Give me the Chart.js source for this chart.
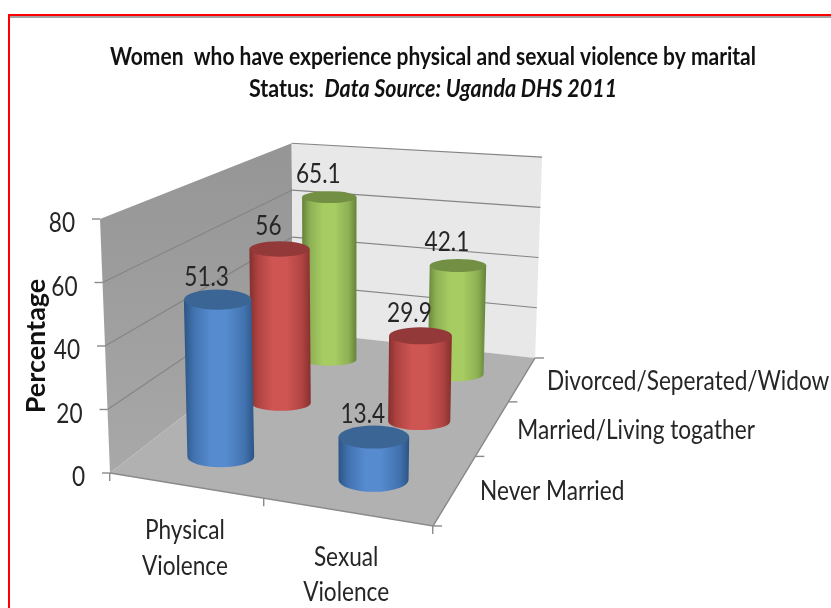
<!DOCTYPE html>
<html>
<head>
<meta charset="utf-8">
<style>html,body{margin:0;padding:0;background:#fff}canvas{display:block}</style>
<script src="https://cdn.jsdelivr.net/npm/chart.js@4"></script>
</head>
<body>
<canvas id="c" width="831" height="608"></canvas>
<script>
// ---- data ----
const categories = [['Physical', 'Violence'], ['Sexual', 'Violence']];
const depthLabels = ['Never Married', 'Married/Living togather', 'Divorced/Seperated/Widow'];
const neverMarried = [51.3, 13.4];
const marriedLiving = [56, 29.9];
const divorcedSeparated = [65.1, 42.1];
const titleLine1 = 'Women  who have experience physical and sexual violence by marital';
const titleLine2a = 'Status:  ';
const titleLine2b = 'Data Source: Uganda DHS 2011';
const axisTitle = 'Percentage';

// ---- styling ----
const FONT = 'Lato';
const SQUEEZE = 0.87;
const PALETTE = [
  { dark: '#2c5585', mid: '#4273b0', light: '#568bcf', top: '#3b6595' },
  { dark: '#85302e', mid: '#b04442', light: '#cf5553', top: '#94393a' },
  { dark: '#64823a', mid: '#8eb054', light: '#a6cc62', top: '#728f44' }
];

// squeezes the wide fallback font to the narrow look of the original lettering
const nativeFill = CanvasRenderingContext2D.prototype.fillText;
CanvasRenderingContext2D.prototype.fillText = function (t, x, y, m) {
  const w = this.measureText(t).width;
  const s = /bold/.test(this.font) ? 1 : SQUEEZE;
  return nativeFill.call(this, t, x, y, m === undefined ? w * s : m);
};

// ---- 3D floor projection (unit square u,v -> page) ----
const F = { a: 282.1, b: 292.8, c: 110, d: 3.2, e: -18, f: 473, g: -0.0946, h: 0.3746 };
function floorW(u, v) { return 1 + F.g * u + F.h * v; }
function floorPt(u, v) {
  const w = floorW(u, v);
  return [(F.a * u + F.b * v + F.c) / w, (F.d * u + F.e * v + F.f) / w, w];
}
// point at value val above floor point (u,v), measured by the value scale
function project(yScale, u, v, val) {
  const p = floorPt(u, v);
  const unit = (yScale.getPixelForValue(0) - yScale.getPixelForValue(val));
  const hp = unit / Math.pow(p[2], 0.95);
  return [p[0] + (p[0] - 335) * hp / 5715, p[1] - hp, p[2]];
}
const depthOf = i => (i + 0.5) / 3;
const BAR_DROP = 3.5;

// ---- axes leaning with the box ----
class LeanY extends Chart.LinearScale {
  _computeLabelItems(a) {
    const items = super._computeLabelItems(a);
    const ticks = this.ticks;
    items.forEach((it, i) => {
      const p = project(this, 0, 0, ticks[i].value);
      it.options.translation = [p[0] - 25, p[1] + 5];
    });
    return items;
  }
  _computeGridLineItems(a) {
    const items = super._computeGridLineItems(a);
    const ticks = this.ticks;
    items.forEach((it, i) => {
      if (!ticks[i]) return;
      const p = project(this, 0, 0, ticks[i].value);
      it.tx1 = p[0] - 8; it.tx2 = p[0]; it.ty1 = it.ty2 = p[1];
    });
    return items;
  }
}
LeanY.id = 'leanY';
LeanY.defaults = Chart.LinearScale.defaults;

class LeanX extends Chart.CategoryScale {
  _computeLabelItems(a) {
    const items = super._computeLabelItems(a);
    items.forEach(it => {
      const t = it.options.translation;
      const u = (t[0] - this.left) / (this.right - this.left);
      const p = floorPt(u, 0);
      it.options.translation = [p[0], p[1] + 28];
    });
    return items;
  }
  _computeGridLineItems(a) {
    const items = super._computeGridLineItems(a);
    items.forEach(it => {
      const u = (it.tx1 - this.left) / (this.right - this.left);
      const p = floorPt(u, 0);
      it.tx1 = it.tx2 = p[0]; it.ty1 = p[1]; it.ty2 = p[1] + 8;
    });
    return items;
  }
}
LeanX.id = 'leanX';
LeanX.defaults = Chart.CategoryScale.defaults;
Chart.register(LeanY, LeanX);

// ---- cylinders: the bar controller draws each value as a cylinder ----
function drawCylinder(ctx, yScale, u, v, val, pal) {
  const b = project(yScale, u, v, 0), t = project(yScale, u, v, val);
  b[1] += BAR_DROP; t[1] += BAR_DROP;
  const rx = 34.7 / b[2], ry = 11.6 / Math.pow(b[2], 2.5);
  const rxT = rx * 1.01, ryT = ry * 0.97;
  const g = ctx.createLinearGradient(Math.min(b[0], t[0]) - rx, 0, Math.max(b[0], t[0]) + rx, 0);
  g.addColorStop(0, pal.dark); g.addColorStop(0.14, pal.mid); g.addColorStop(0.38, pal.light);
  g.addColorStop(0.6, pal.light); g.addColorStop(0.86, pal.mid); g.addColorStop(1, pal.dark);
  ctx.beginPath();
  ctx.moveTo(t[0] - rxT, t[1]);
  ctx.lineTo(b[0] - rx, b[1]);
  ctx.ellipse(b[0], b[1], rx, ry, 0, Math.PI, 0, true);
  ctx.lineTo(t[0] + rxT, t[1]);
  ctx.closePath();
  ctx.fillStyle = g; ctx.fill();
  ctx.beginPath();
  ctx.ellipse(t[0], t[1], rxT, ryT, 0, 0, Math.PI * 2);
  ctx.fillStyle = pal.top; ctx.fill();
}
Chart.BarController.prototype.draw = function () {
  const ctx = this._ctx, meta = this._cachedMeta, x = meta.iScale, y = meta.vScale;
  const v = depthOf(this.index), pal = PALETTE[this.index];
  meta.data.forEach((rect, i) => {
    const val = this.getParsed(i).y;
    const u = (rect.x - x.left) / (x.right - x.left);
    const t = project(y, u, v, val);
    ctx.save();
    ctx.font = '26px ' + FONT;
    ctx.fillStyle = '#262626';
    ctx.textAlign = 'center'; ctx.textBaseline = 'middle';
    ctx.fillText(String(val), t[0] - 11, t[1] - 19);
    ctx.restore();
    drawCylinder(ctx, y, u, v, val, pal);
  });
};

// ---- frame, title, box, depth labels ----
const box3d = {
  id: 'box3d',
  beforeDraw(chart) {
    const c = chart.ctx, y = chart.scales.y;
    c.save();
    c.fillStyle = '#fff'; c.fillRect(0, 0, 831, 608);
    c.fillStyle = '#a3a3a3'; c.fillRect(10, 16, 821, 2);
    c.fillStyle = '#f00'; c.fillRect(8, 14, 823, 2); c.fillRect(8, 14, 2, 594);

    // title
    c.fillStyle = '#111'; c.textBaseline = 'middle';
    c.font = 'bold 24px ' + FONT;
    c.textAlign = 'center';
    nativeFill.call(c, titleLine1, 433, 57, 646);
    c.textAlign = 'left';
    const f1 = 'bold 24px ' + FONT, f2 = 'italic bold 24px ' + FONT;
    c.font = f1; const w1 = c.measureText(titleLine2a).width * 0.895;
    c.font = f2; const w2 = c.measureText(titleLine2b).width * 0.895;
    const sx = 433 - (w1 + w2) / 2;
    c.font = f1; nativeFill.call(c, titleLine2a, sx, 89, w1);
    c.font = f2; nativeFill.call(c, titleLine2b, sx + w1, 89, w2);

    // walls and floor
    const top = y.max;
    const P = (u, v, h) => project(y, u, v, h);
    const poly = (pts, fill) => {
      c.beginPath(); pts.forEach((p, i) => i ? c.lineTo(p[0], p[1]) : c.moveTo(p[0], p[1]));
      c.closePath(); c.fillStyle = fill; c.fill();
    };
    const lw = c.createLinearGradient(0, 143, 0, 473);
    lw.addColorStop(0, '#959595'); lw.addColorStop(1, '#a8a8a8');
    poly([P(0, 0, 0), P(0, 1, 0), P(0, 1, top), P(0, 0, top)], lw);
    poly([P(0, 1, 0), P(1, 1, 0), P(1, 1, top), P(0, 1, top)], '#e8e8e8');
    poly([P(0, 0, 0), P(1, 0, 0), P(1, 1, 0), P(0, 1, 0)], '#b1b1b1');

    // value grid on both walls, from the value scale's ticks
    c.lineWidth = 1.2;
    y.ticks.forEach(t => {
      if (t.value > 0) {
        const a = P(0, 0, t.value), m = P(0, 1, t.value), r = P(1, 1, t.value);
        if (t.value < top) {
          c.strokeStyle = '#858585';
          c.beginPath(); c.moveTo(a[0], a[1]); c.lineTo(m[0], m[1]); c.stroke();
        }
        c.strokeStyle = '#858585';
        c.beginPath(); c.moveTo(m[0], m[1]); c.lineTo(r[0], r[1]); c.stroke();
      }
    });

    // floor edges and depth axis
    c.strokeStyle = '#8a8a8a'; c.lineWidth = 1.4;
    const fl = P(0, 0, 0), fr = P(1, 0, 0), br = P(1, 1, 0);
    c.beginPath(); c.moveTo(fl[0], fl[1]); c.lineTo(fr[0], fr[1]); c.lineTo(br[0], br[1]); c.stroke();
    for (let i = 0; i <= depthLabels.length; i++) {
      const p = floorPt(1, i / depthLabels.length);
      c.beginPath(); c.moveTo(p[0], p[1]); c.lineTo(p[0] + 9, p[1]); c.stroke();
    }
    c.font = '26px ' + FONT; c.fillStyle = '#262626'; c.textAlign = 'left'; c.textBaseline = 'middle';
    depthLabels.forEach((l, i) => {
      const p = floorPt(1, depthOf(i));
      c.fillText(l, p[0] + 24.5, p[1] + 3);
    });
    c.restore();
  }
};

new Chart(document.getElementById('c'), {
  type: 'bar',
  data: {
    labels: categories,
    datasets: [
      { label: depthLabels[0], data: neverMarried, backgroundColor: PALETTE[0].light, clip: false },
      { label: depthLabels[1], data: marriedLiving, backgroundColor: PALETTE[1].light, clip: false },
      { label: depthLabels[2], data: divorcedSeparated, backgroundColor: PALETTE[2].light, clip: false }
    ]
  },
  options: {
    responsive: false,
    animation: false,
    devicePixelRatio: 1,
    datasets: { bar: { grouped: false } },
    layout: { padding: { left: 20, right: 398, top: 219, bottom: 0 } },
    plugins: { legend: { display: false }, tooltip: { enabled: false }, title: { display: false } },
    scales: {
      x: {
        type: 'leanX', axis: 'x', offset: true,
        afterFit: s => { s.height = 135; },
        border: { display: false },
        grid: { offset: true, drawOnChartArea: false, drawTicks: true, tickLength: 8, color: '#8a8a8a', lineWidth: 1.4 },
        ticks: { autoSkip: false, maxRotation: 0, minRotation: 0, padding: 2, color: '#262626', font: { family: FONT, size: 26, lineHeight: 1.36 } }
      },
      y: {
        type: 'leanY', axis: 'y', min: 0, max: 80,
        afterFit: s => { s.width = 90; },
        border: { display: false },
        grid: { drawOnChartArea: false, drawTicks: true, tickLength: 8, color: '#8a8a8a', lineWidth: 1.4 },
        ticks: { stepSize: 20, padding: 14, color: '#262626', font: { family: FONT, size: 26 } },
        title: { display: true, text: axisTitle, color: '#111', padding: 0, font: { family: FONT, size: 27, weight: 'bold', lineHeight: 1.2 } }
      }
    }
  },
  plugins: [box3d]
});
</script>
</body>
</html>
